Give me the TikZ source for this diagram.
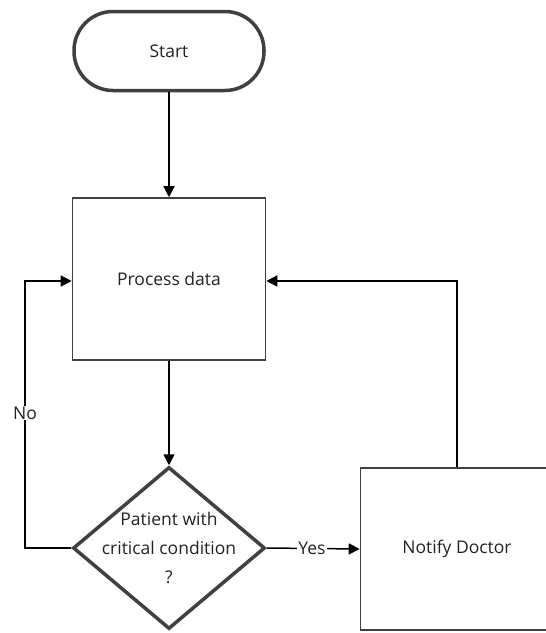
\documentclass[tikz,border=0pt]{standalone}
\usepackage{fontspec}
\setmainfont{Open Sans}
\usetikzlibrary{shapes.geometric,arrows.meta}
\definecolor{edgegray}{HTML}{404040}
\definecolor{inkgray}{HTML}{222222}
\begin{document}
\begin{tikzpicture}[x=1pt,y=-1pt,
  every node/.style={font=\fontsize{17.5}{29}\selectfont, text=inkgray},
  terminal/.style={draw=edgegray, line width=3.5pt, rounded corners=39pt,
    minimum width=190pt, minimum height=79pt, inner sep=0pt},
  procbox/.style={draw=edgegray, line width=1.6pt, minimum width=193pt,
    minimum height=162pt, inner sep=0pt},
  decision/.style={diamond, draw=edgegray, line width=3.5pt, minimum width=192pt,
    minimum height=162pt, inner sep=0pt},
  flow/.style={draw=black, line width=1.5pt,
    -{Triangle[length=11pt,width=11pt]}},
  lbl/.style={fill=white, inner sep=1pt}]
\useasboundingbox (0,0) rectangle (546,633);
\begin{scope}
\clip (0,0) rectangle (546,633);
\node[terminal] (start) at (169,51) {Start};
\node[procbox] (proc) at (169,279) {Process data};
\node[decision] (dec) at (169,548) {};
\node[align=center, inner sep=0pt] (dectext) at (dec.center) {Patient with\\critical condition\\?};
\node[procbox] (notify) at (457,549) {Notify Doctor};
\coordinate (noBend1) at (25,548);
\coordinate (noBend2) at (25,281);
\coordinate (backBend) at (457,281);

\draw[flow] (start.south) -- (proc.north);
\draw[flow] (proc.south) -- (dec.north);
\draw[flow] (dec.west) -- (noBend1) -- (noBend2) -- (proc.west |- noBend2);
\draw[flow] (dec.east) -- (notify.west);
\draw[flow] (notify.north) -- (backBend) -- (proc.east |- backBend);
\node[lbl] (nolbl) at (25,413) {No};
\node[lbl] (yeslbl) at (312,548) {Yes};
\end{scope}
\end{tikzpicture}
\end{document}
